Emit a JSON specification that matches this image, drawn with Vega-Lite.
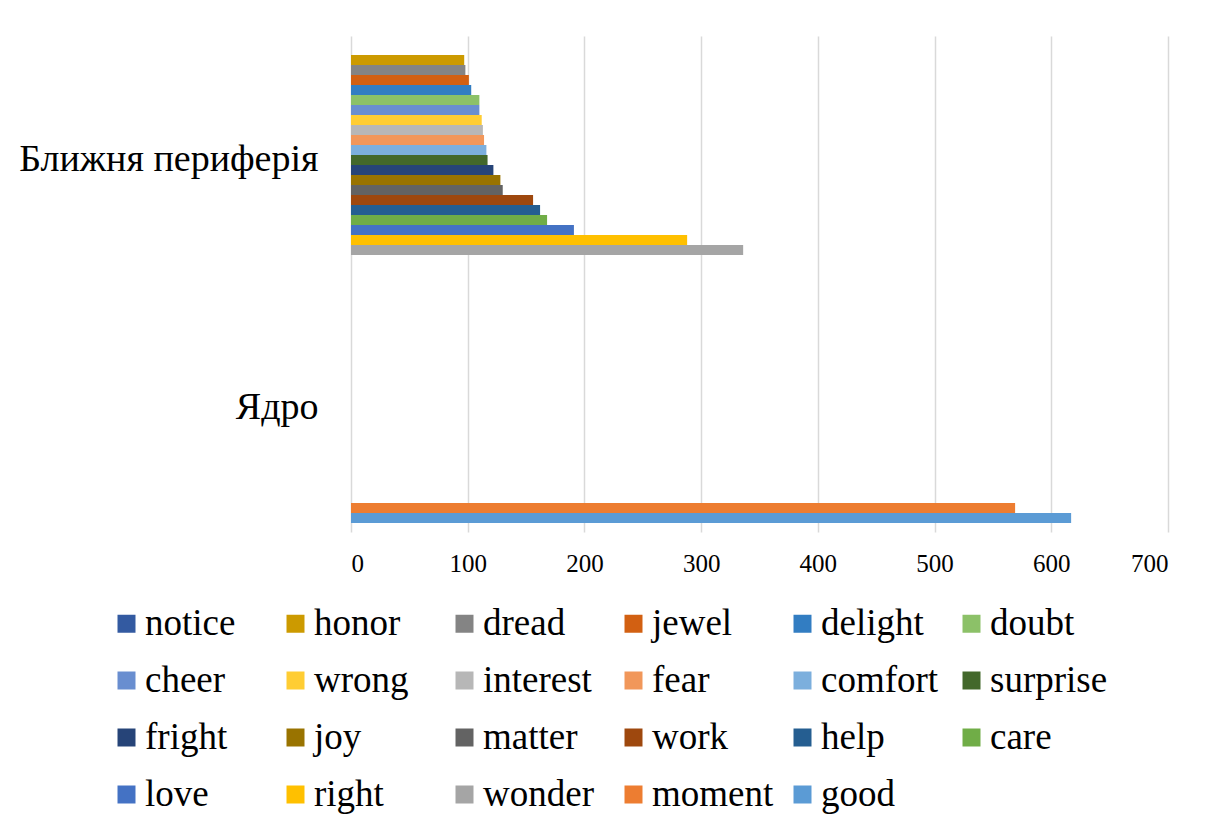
{
  "$schema": "https://vega.github.io/schema/vega-lite/v6.json",
  "width": 817,
  "height": 496,
  "autosize": {"type": "none"},
  "padding": {"left": 351, "top": 36, "right": 57, "bottom": 297},
  "background": "white",
  "data": {
    "values": [
      {"cat": "Ядро", "word": "good", "value": 617},
      {"cat": "Ядро", "word": "moment", "value": 569},
      {"cat": "Ближня периферія", "word": "wonder", "value": 336},
      {"cat": "Ближня периферія", "word": "right", "value": 288},
      {"cat": "Ближня периферія", "word": "love", "value": 191},
      {"cat": "Ближня периферія", "word": "care", "value": 168},
      {"cat": "Ближня периферія", "word": "help", "value": 162},
      {"cat": "Ближня периферія", "word": "work", "value": 156},
      {"cat": "Ближня периферія", "word": "matter", "value": 130},
      {"cat": "Ближня периферія", "word": "joy", "value": 128},
      {"cat": "Ближня периферія", "word": "fright", "value": 122},
      {"cat": "Ближня периферія", "word": "surprise", "value": 117},
      {"cat": "Ближня периферія", "word": "comfort", "value": 116},
      {"cat": "Ближня периферія", "word": "fear", "value": 114},
      {"cat": "Ближня периферія", "word": "interest", "value": 113},
      {"cat": "Ближня периферія", "word": "wrong", "value": 112},
      {"cat": "Ближня периферія", "word": "cheer", "value": 110},
      {"cat": "Ближня периферія", "word": "doubt", "value": 110},
      {"cat": "Ближня периферія", "word": "delight", "value": 103},
      {"cat": "Ближня периферія", "word": "jewel", "value": 101},
      {"cat": "Ближня периферія", "word": "dread", "value": 98},
      {"cat": "Ближня периферія", "word": "honor", "value": 97}
    ]
  },
  "mark": {"type": "bar"},
  "encoding": {
    "y": {
      "field": "cat",
      "type": "nominal",
      "sort": ["Ближня периферія", "Ядро"],
      "scale": {"domain": ["Ближня периферія", "Ядро"], "paddingInner": 0, "paddingOuter": 0},
      "axis": {
        "title": null,
        "domain": false,
        "ticks": false,
        "labelFont": "Liberation Serif",
        "labelFontSize": 38,
        "labelColor": "#000000",
        "labelPadding": 33,
        "labelLimit": 400
      }
    },
    "yOffset": {
      "field": "word",
      "type": "nominal",
      "scale": {
        "domain": ["notice", "honor", "dread", "jewel", "delight", "doubt", "cheer", "wrong", "interest", "fear", "comfort", "surprise", "fright", "joy", "matter", "work", "help", "care", "love", "right", "wonder", "moment", "good"],
        "paddingInner": 0,
        "paddingOuter": 0.9
      }
    },
    "x": {
      "field": "value",
      "type": "quantitative",
      "scale": {"domain": [0, 700], "nice": false},
      "axis": {
        "title": null,
        "values": [0, 100, 200, 300, 400, 500, 600, 700],
        "domain": false,
        "ticks": false,
        "grid": true,
        "gridColor": "#d9d9d9",
        "gridWidth": 1.5,
        "labelFont": "Liberation Serif",
        "labelFontSize": 25,
        "labelColor": "#000000",
        "labelPadding": 19
      }
    },
    "color": {
      "field": "word",
      "type": "nominal",
      "scale": {
        "domain": ["notice", "honor", "dread", "jewel", "delight", "doubt", "cheer", "wrong", "interest", "fear", "comfort", "surprise", "fright", "joy", "matter", "work", "help", "care", "love", "right", "wonder", "moment", "good"],
        "range": ["#335AA1", "#CC9A00", "#848484", "#D26012", "#327DC2", "#8CC168", "#698ED0", "#FFCD33", "#B7B7B7", "#F1975A", "#7CAFDD", "#43682B", "#264478", "#997300", "#636363", "#9E480E", "#255E91", "#70AD47", "#4472C4", "#FFC000", "#A5A5A5", "#ED7D31", "#5B9BD5"]
      },
      "legend": {
        "title": null,
        "orient": "none",
        "legendX": -243,
        "legendY": 569,
        "direction": "horizontal",
        "columns": 6,
        "gridAlign": "all",
        "symbolType": "square",
        "symbolSize": 324,
        "symbolStrokeWidth": 0,
        "labelFont": "Liberation Serif",
        "labelFontSize": 37,
        "labelColor": "#000000",
        "labelOffset": 0,
        "labelLimit": 300,
        "columnPadding": 10,
        "rowPadding": 19
      }
    }
  },
  "config": {
    "view": {"stroke": null}
  }
}
